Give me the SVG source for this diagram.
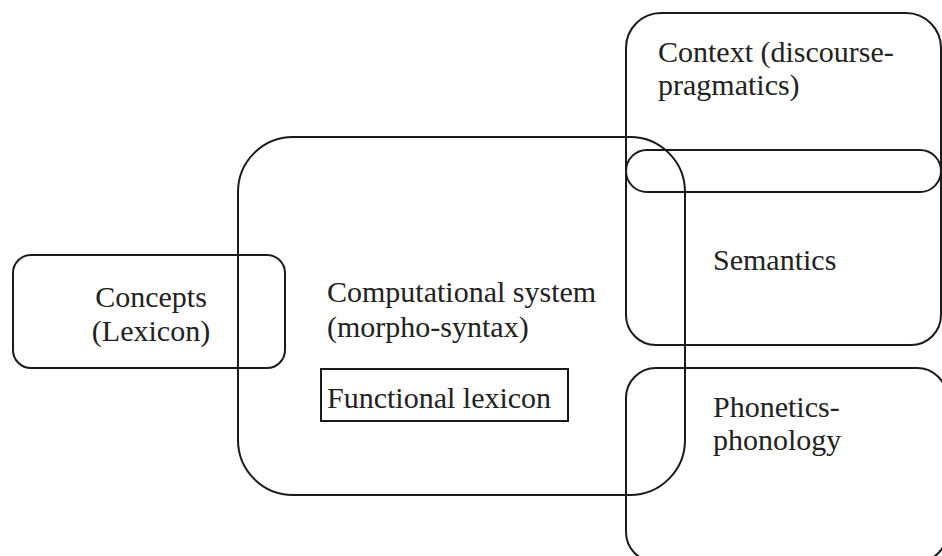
<svg xmlns="http://www.w3.org/2000/svg" width="942" height="556" viewBox="0 0 942 556">
<style>
.b{fill:none;stroke:#1a1a1a;stroke-width:2}
.t{font-family:"Liberation Serif","Times New Roman",serif;font-size:30px;fill:#222}
</style>
<rect width="942" height="556" fill="#fff"/>
<g id="context">
<path class="b" d="M661,13 H906 A35,35 0 0 1 941,48 V171 A21,21 0 0 1 920,192 H647 A21,21 0 0 1 626,171 V48 A35,35 0 0 1 661,13 Z"/>
<text class="t" x="658" y="62">Context (discourse-</text>
<text class="t" x="658" y="95">pragmatics)</text>
</g>
<g id="semantics">
<path class="b" d="M647,150 H920 A21,21 0 0 1 941,171 V315 A30,30 0 0 1 911,345 H656 A30,30 0 0 1 626,315 V171 A21,21 0 0 1 647,150 Z"/>
<text class="t" x="713" y="270">Semantics</text>
</g>
<g id="phonetics">
<rect class="b" x="626" y="368" width="321" height="194" rx="30"/>
<text class="t" x="713" y="417">Phonetics-</text>
<text class="t" x="713" y="450">phonology</text>
</g>
<g id="concepts">
<rect class="b" x="13" y="255" width="272" height="113" rx="18"/>
<text class="t" x="151" y="307" text-anchor="middle">Concepts</text>
<text class="t" x="151" y="341" text-anchor="middle">(Lexicon)</text>
</g>
<g id="computational">
<rect class="b" x="238" y="137" width="447" height="358" rx="55"/>
<text class="t" x="327" y="302">Computational system</text>
<text class="t" x="327" y="337">(morpho-syntax)</text>
</g>
<g id="functional">
<rect class="b" x="321" y="369" width="247" height="52"/>
<text class="t" x="327" y="408">Functional lexicon</text>
</g>
</svg>
